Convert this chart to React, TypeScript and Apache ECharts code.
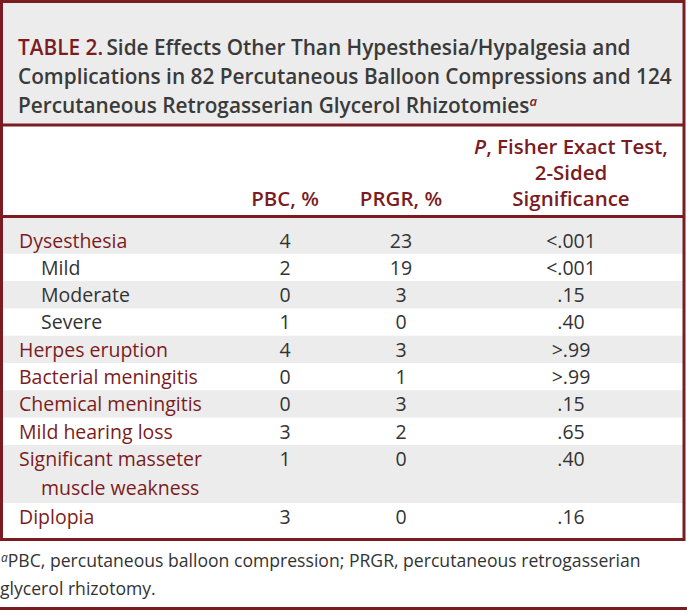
import React, { useEffect, useRef } from "react";
import * as echarts from "echarts";

const titleLines = [
  "Side Effects Other Than Hypesthesia/Hypalgesia and",
  "Complications in 82 Percutaneous Balloon Compressions and 124",
  "Percutaneous Retrogasserian Glycerol Rhizotomies",
];
const tableNo = "TABLE 2.";
const headPBC = "PBC, %";
const headPRGR = "PRGR, %";
const headP = ["P", ", Fisher Exact Test,", "2-Sided", "Significance"];

const rowLabels = [
  "Dysesthesia",
  "Mild",
  "Moderate",
  "Severe",
  "Herpes eruption",
  "Bacterial meningitis",
  "Chemical meningitis",
  "Mild hearing loss",
  "Significant masseter\nmuscle weakness",
  "Diplopia",
];
const rowIsSub = [false, true, true, true, false, false, false, false, false, false];
const pbcPct = [4, 2, 0, 1, 4, 0, 0, 3, 1, 3];
const prgrPct = [23, 19, 3, 0, 3, 1, 3, 2, 0, 0];
const pValues = ["<.001", "<.001", ".15", ".40", ">.99", ">.99", ".15", ".65", ".40", ".16"];
const footnote = [
  "PBC, percutaneous balloon compression; PRGR, percutaneous retrogasserian",
  "glycerol rhizotomy.",
];

const RED = "#7b1c22";
const GRAY_BG = "#ececec";
const TXT = "#333333";
const FONT = "'Open Sans', 'Noto Sans', sans-serif";

export default function App() {
  const ref = useRef<HTMLDivElement>(null);
  useEffect(() => {
    document.body.style.margin = "0";
    const chart = echarts.init(ref.current!, null, { renderer: "svg" });
    const W = 687;
    const els: any[] = [];

    // title box background
    els.push({ type: "rect", shape: { x: 1.5, y: 1.5, width: W - 4.5, height: 123 }, style: { fill: GRAY_BG } });

    // title text
    const tY0 = 47;
    const tPitch = 29;
    const tSize = 20.8;
    titleLines.forEach((line, i) => {
      let text = "";
      if (i === 0) text = "{r|" + tableNo + "} {g|" + line + "}";
      else if (i === titleLines.length - 1) text = "{g|" + line + "}{s|a}";
      else text = "{g|" + line + "}";
      els.push({
        type: "text",
        x: 18,
        y: tY0 + i * tPitch,
        style: {
          text,
          align: "left",
          verticalAlign: "middle",
          rich: {
            r: { fill: RED, fontFamily: FONT, fontWeight: 600, fontSize: tSize },
            g: { fill: "#3a3a3a", fontFamily: FONT, fontWeight: 600, fontSize: tSize },
            s: { fill: RED, fontFamily: FONT, fontWeight: 600, fontStyle: "italic", fontSize: 13, verticalAlign: "top" },
          },
        },
      });
    });

    // column centers
    const cx = [285, 401, 571];

    // header
    const hStyle = { fill: RED, fontFamily: FONT, fontWeight: 600, fontSize: 20.5 };
    els.push({ type: "text", x: cx[0], y: 198, style: { ...hStyle, text: headPBC, align: "center", verticalAlign: "middle" } });
    els.push({ type: "text", x: cx[1], y: 198, style: { ...hStyle, text: headPRGR, align: "center", verticalAlign: "middle" } });
    els.push({
      type: "text",
      x: cx[2],
      y: 146,
      style: {
        text: "{i|" + headP[0] + "}{n|" + headP[1] + "}",
        align: "center",
        verticalAlign: "middle",
        rich: { i: { ...hStyle, fontStyle: "italic" }, n: { ...hStyle } },
      },
    });
    els.push({ type: "text", x: cx[2], y: 172, style: { ...hStyle, text: headP[2], align: "center", verticalAlign: "middle" } });
    els.push({ type: "text", x: cx[2], y: 198, style: { ...hStyle, text: headP[3], align: "center", verticalAlign: "middle" } });

    // body rows
    const bSize = 19.5;
    let top = 217.5;
    const linePitch = 29;
    const rowH = 27.3;
    rowLabels.forEach((lab, i) => {
      const lines = lab.split("\n");
      const pad = i === 0 ? 9 : 0;
      const bottomPad = i === rowLabels.length - 1 ? 7 : 0;
      const h = pad + rowH + (lines.length - 1) * (linePitch + 1.7) + bottomPad;
      if (i % 2 === 0) {
        els.push({ type: "rect", shape: { x: 1.5, y: top, width: W - 4.5, height: h }, style: { fill: GRAY_BG } });
      }
      const cy = top + pad + 13.5;
      const labX = rowIsSub[i] ? 41 : 19;
      lines.forEach((ln, k) => {
        els.push({
          type: "text",
          x: k === 0 ? labX : 41,
          y: cy + k * linePitch,
          style: {
            text: ln,
            fill: rowIsSub[i] ? TXT : RED,
            fontFamily: FONT,
            fontSize: bSize,
            align: "left",
            verticalAlign: "middle",
          },
        });
      });
      [String(pbcPct[i]), String(prgrPct[i]), pValues[i]].forEach((v, j) => {
        els.push({
          type: "text",
          x: cx[j],
          y: cy,
          style: { text: v, fill: TXT, fontFamily: FONT, fontSize: bSize, align: "center", verticalAlign: "middle" },
        });
      });
      top += h;
    });

    // frame lines
    els.push({ type: "rect", shape: { x: 1.5, y: 1.5, width: W - 4.5, height: 538 }, style: { fill: "none", stroke: RED, lineWidth: 3 } });
    els.push({ type: "line", shape: { x1: 0, y1: 125, x2: W - 2, y2: 125 }, style: { stroke: RED, lineWidth: 3 } });
    els.push({ type: "line", shape: { x1: 0, y1: 216.5, x2: W - 2, y2: 216.5 }, style: { stroke: RED, lineWidth: 3 } });
    els.push({ type: "line", shape: { x1: 0, y1: 608.5, x2: W, y2: 608.5 }, style: { stroke: RED, lineWidth: 3 } });

    // footnote
    const fSize = 17.6;
    els.push({
      type: "text",
      x: 1,
      y: 560,
      style: {
        text: "{s|a}{t|" + footnote[0] + "}",
        align: "left",
        verticalAlign: "middle",
        rich: {
          s: { fill: TXT, fontFamily: FONT, fontStyle: "italic", fontSize: 12, verticalAlign: "top" },
          t: { fill: TXT, fontFamily: FONT, fontSize: fSize },
        },
      },
    });
    els.push({
      type: "text",
      x: 0,
      y: 588,
      style: { text: footnote[1], fill: TXT, fontFamily: FONT, fontSize: fSize, align: "left", verticalAlign: "middle" },
    });

    chart.setOption({ animation: false, graphic: { elements: els } });
    return () => chart.dispose();
  }, []);
  return <div ref={ref} style={{ width: 687, height: 610, background: "#fff" }} />;
}
